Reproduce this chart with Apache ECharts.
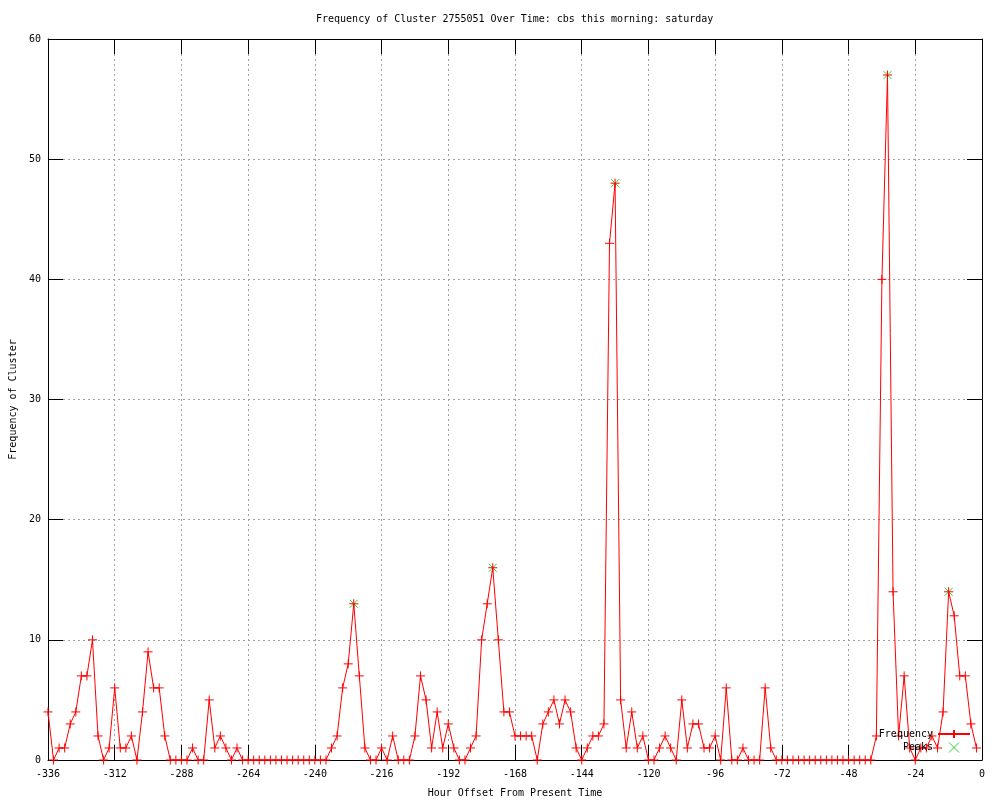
<!DOCTYPE html>
<html>
<head>
<meta charset="utf-8">
<title>Frequency of Cluster 2755051</title>
<script src="https://cdn.jsdelivr.net/npm/echarts@6/dist/echarts.min.js"></script>
<style>
  html, body { margin: 0; padding: 0; background: #fff; }
  #chart { width: 1000px; height: 800px; }
</style>
</head>
<body>
<div id="chart"></div>
<script>
// hourly offsets, one point every 2 hours starting at -336
const startHour = -336;
const stepHours = 2;

// frequency per 2h bucket, -336 .. -2
const frequency = [
  4, 0, 1, 1, 3, 4,
  7, 7, 10, 2, 0, 1,
  6, 1, 1, 2, 0, 4,
  9, 6, 6, 2, 0, 0,
  0, 0, 1, 0, 0, 5,
  1, 2, 1, 0, 1, 0,
  0, 0, 0, 0, 0, 0,
  0, 0, 0, 0, 0, 0,
  0, 0, 0, 1, 2, 6,
  8, 13, 7, 1, 0, 0,
  1, 0, 2, 0, 0, 0,
  2, 7, 5, 1, 4, 1,
  3, 1, 0, 0, 1, 2,
  10, 13, 16, 10, 4, 4,
  2, 2, 2, 2, 0, 3,
  4, 5, 3, 5, 4, 1,
  0, 1, 2, 2, 3, 43,
  48, 5, 1, 4, 1, 2,
  0, 0, 1, 2, 1, 0,
  5, 1, 3, 3, 1, 1,
  2, 0, 6, 0, 0, 1,
  0, 0, 0, 6, 1, 0,
  0, 0, 0, 0, 0, 0,
  0, 0, 0, 0, 0, 0,
  0, 0, 0, 0, 0, 2,
  40, 57, 14, 2, 7, 1,
  0, 1, 1, 2, 1, 4,
  14, 12, 7, 7, 3, 1
];

const peakHours = [-226, -176, -132, -34, -12];
const peakValues = [13, 16, 48, 57, 14];

const xTicks = { min: -336, max: 0, interval: 24 };
const yTicks = { min: 0, max: 60, interval: 10 };

const freqData = frequency.map((v, i) => [startHour + i * stepHours, v]);
const peakData = peakHours.map((h, i) => [h, peakValues[i]]);

const FONT = 'DejaVu Sans Mono';
const PLUS = 'path://M0,5L10,5M5,0L5,10';
const CROSS = 'path://M0,0L10,10M10,0L0,10';

const chart = echarts.init(document.getElementById('chart'), null, { renderer: 'canvas' });

// gnuplot style box: all four sides drawn, ticks pointing in
const axisCommon = {
  type: 'value',
  axisLine: { show: true, onZero: false, lineStyle: { color: '#000', width: 1 } },
  axisTick: { show: true, inside: true, length: 15, lineStyle: { color: '#000' } }
};
const gridLine = { show: true, lineStyle: { color: '#a0a0a0', type: [2, 3], width: 1 } };
const txt = { fontFamily: FONT, fontSize: 10, color: '#000' };

const option = {
  backgroundColor: '#fff',
  animation: false,
  textStyle: { fontFamily: FONT },
  title: {
    text: 'Frequency of Cluster 2755051 Over Time: cbs this morning: saturday',
    left: 311,
    top: 9,
    textStyle: Object.assign({ fontWeight: 'normal' }, txt)
  },
  legend: {
    orient: 'vertical',
    right: 24,
    top: 724,
    align: 'right',
    itemGap: 3,
    itemWidth: 32,
    itemHeight: 10,
    textStyle: txt,
    data: [
      'Frequency',
      { name: 'Peaks', icon: CROSS, itemStyle: { color: 'rgba(0,0,0,0)', borderColor: '#00c000', borderWidth: 1 } }
    ]
  },
  grid: { left: 48, right: 18, top: 39, bottom: 40, containLabel: false, outerBoundsMode: 'none' },
  xAxis: [
    Object.assign({}, axisCommon, {
      min: xTicks.min, max: xTicks.max, interval: xTicks.interval,
      position: 'bottom',
      name: 'Hour Offset From Present Time',
      nameLocation: 'middle',
      nameGap: 28,
      nameTextStyle: txt,
      axisLabel: Object.assign({ margin: 9 }, txt),
      splitLine: gridLine
    }),
    Object.assign({}, axisCommon, {
      min: xTicks.min, max: xTicks.max, interval: xTicks.interval,
      position: 'top',
      axisLabel: { show: false },
      splitLine: { show: false }
    })
  ],
  yAxis: [
    Object.assign({}, axisCommon, {
      min: yTicks.min, max: yTicks.max, interval: yTicks.interval,
      position: 'left',
      name: 'Frequency of Cluster',
      nameLocation: 'middle',
      nameGap: 30,
      nameTextStyle: txt,
      axisLabel: Object.assign({ margin: 7 }, txt),
      splitLine: gridLine
    }),
    Object.assign({}, axisCommon, {
      min: yTicks.min, max: yTicks.max, interval: yTicks.interval,
      position: 'right',
      axisLabel: { show: false },
      splitLine: { show: false }
    })
  ],
  series: [
    {
      name: 'Frequency',
      type: 'line',
      xAxisIndex: 0,
      yAxisIndex: 0,
      data: freqData,
      clip: false,
      showAllSymbol: true,
      symbol: PLUS,
      symbolSize: 9,
      lineStyle: { color: '#ff0000', width: 1 },
      itemStyle: { color: 'rgba(0,0,0,0)', borderColor: '#ff0000', borderWidth: 1 },
      emphasis: { disabled: true },
      z: 3
    },
    {
      name: 'Peaks',
      type: 'scatter',
      xAxisIndex: 0,
      yAxisIndex: 0,
      data: peakData,
      symbol: CROSS,
      symbolSize: 8,
      itemStyle: { color: 'rgba(0,0,0,0)', borderColor: '#00c000', borderWidth: 1 },
      emphasis: { disabled: true },
      z: 2
    }
  ]
};

chart.setOption(option);
</script>
</body>
</html>
